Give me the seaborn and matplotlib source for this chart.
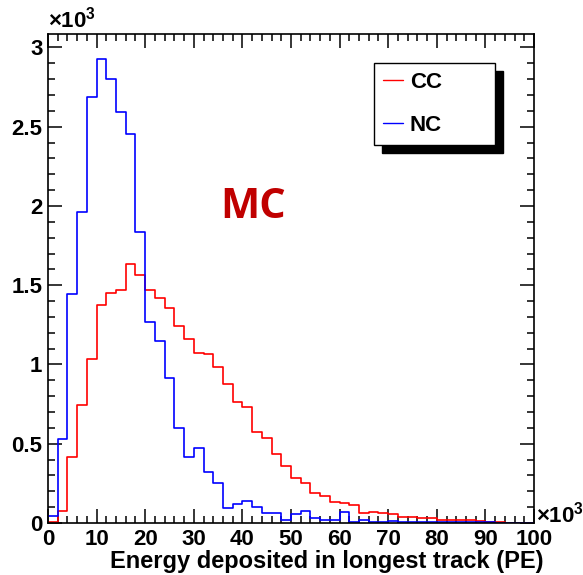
import numpy as np
import pandas as pd
import matplotlib
matplotlib.use("Agg")
import matplotlib.pyplot as plt
from matplotlib.ticker import MultipleLocator, FuncFormatter
import seaborn as sns

# ---- data (values in units of 10^3) ----
bin_edges = np.arange(0, 101, 2)  # x in units of 10^3 PE
cc_counts = [0.005, 0.077, 0.418, 0.744, 1.033, 1.375, 1.453, 1.470, 1.634, 1.565,
             1.470, 1.422, 1.358, 1.243, 1.159, 1.071, 1.064, 0.982, 0.877, 0.761,
             0.734, 0.576, 0.534, 0.437, 0.361, 0.281, 0.250, 0.191, 0.170, 0.134,
             0.124, 0.111, 0.061, 0.067, 0.061, 0.055, 0.038, 0.038, 0.034, 0.034,
             0.019, 0.017, 0.019, 0.017, 0.010, 0.004, 0.004, 0.002, 0.002, 0.002]
nc_counts = [0.046, 0.528, 1.443, 1.960, 2.686, 2.930, 2.800, 2.590, 2.456, 1.838,
             1.266, 1.148, 0.913, 0.597, 0.418, 0.475, 0.324, 0.250, 0.097, 0.118,
             0.139, 0.100, 0.061, 0.061, 0.019, 0.055, 0.076, 0.029, 0.019, 0.019,
             0.067, 0.004, 0.019, 0.004, 0.004, 0.013, 0.004, 0.004, 0.004, 0.004,
             0.008, 0.008, 0.008, 0.008, 0.008, 0.008, 0.002, 0.002, 0.000, 0.000]
series_labels = ["CC", "NC"]
series_colors = ["#ff0000", "#0000ff"]
x_title = "Energy deposited in longest track (PE)"
annotation = "MC"

centers = (bin_edges[:-1] + bin_edges[1:]) / 2
df = pd.DataFrame({
    "x": np.concatenate([centers, centers]),
    "w": np.concatenate([cc_counts, nc_counts]),
    "s": ["CC"] * len(centers) + ["NC"] * len(centers),
})

sns.set_theme(style="ticks")
plt.rcParams["font.family"] = ["Liberation Sans", "DejaVu Sans"]
plt.rcParams["font.weight"] = "bold"
plt.rcParams["text.color"] = "black"
plt.rcParams["axes.labelcolor"] = "black"
plt.rcParams["xtick.color"] = "black"
plt.rcParams["ytick.color"] = "black"
plt.rcParams["mathtext.fontset"] = "custom"
plt.rcParams["mathtext.rm"] = "Liberation Sans:bold"
plt.rcParams["mathtext.it"] = "Liberation Sans:bold"
plt.rcParams["mathtext.bf"] = "Liberation Sans:bold"

fig = plt.figure(figsize=(5.83, 5.75), dpi=100)
fig.patch.set_facecolor("white")
ax = fig.add_axes([48 / 583, 1 - 523 / 575, (534 - 48) / 583, (523 - 34) / 575])
ax.set_facecolor("white")

for lab, col in zip(series_labels, series_colors):
    sub = df[df["s"] == lab].reset_index(drop=True)
    sns.histplot(data=sub, x="x", weights="w", bins=list(bin_edges), element="step",
                 fill=False, color=col, linewidth=1.2, ax=ax, label=lab)

ax.set_xlim(0, 100)
ax.set_ylim(0, 3.085)
ax.set_xlabel("")
ax.set_ylabel("")

for sp in ax.spines.values():
    sp.set_visible(True)
    sp.set_linewidth(1.2)
    sp.set_color("black")

ax.xaxis.set_major_locator(MultipleLocator(10))
ax.xaxis.set_minor_locator(MultipleLocator(2))
ax.yaxis.set_major_locator(MultipleLocator(0.5))
ax.yaxis.set_minor_locator(MultipleLocator(0.1))
ax.yaxis.set_major_formatter(FuncFormatter(lambda v, p: "%g" % v))
ax.xaxis.set_major_formatter(FuncFormatter(lambda v, p: "%g" % v))
ax.tick_params(which="both", direction="in", top=True, right=True, color="black",
               width=1.1, labelcolor="black")
ax.tick_params(which="major", length=10)
ax.tick_params(which="minor", length=5)
ax.tick_params(axis="x", which="major", labelsize=16, pad=4)
ax.tick_params(axis="y", which="major", labelsize=16, pad=4)
for t in ax.get_xticklabels() + ax.get_yticklabels():
    t.set_fontweight("bold")

# axis multipliers
ax.text(0.0, 1.004, r"$\times10^{3}$", transform=ax.transAxes, ha="left",
        va="bottom", fontsize=16)
ax.text(1.005, 0.0, r"$\times10^{3}$", transform=ax.transAxes, ha="left",
        va="baseline", fontsize=16, clip_on=False)

# x title
fig.text(327 / 583, 1 - 568 / 575, x_title, ha="center", va="baseline",
         fontsize=17, fontweight="bold")

# MC annotation
ax.text(35.4, 1.924, annotation, ha="left", va="baseline", fontsize=30,
        fontweight="bold", color="#c00000", family=["Open Sans", "DejaVu Sans"])

leg = ax.legend(loc="upper left", bbox_to_anchor=(0.671, 0.769, 0.249, 0.172),
                mode="expand", frameon=True, fancybox=False, edgecolor="black",
                framealpha=1, prop={"size": 16, "weight": "bold"},
                handlelength=0.9, handletextpad=0.3, labelspacing=1.0,
                borderpad=0.4, borderaxespad=0,
                shadow={"ox": 6, "oy": -6, "color": "black", "alpha": 1})
leg.get_frame().set_linewidth(1.0)
for h in leg.get_lines():
    h.set_linewidth(1.0)
for t in leg.get_texts():
    t.set_color("black")

fig.savefig("out.png", dpi=100, facecolor="white")
